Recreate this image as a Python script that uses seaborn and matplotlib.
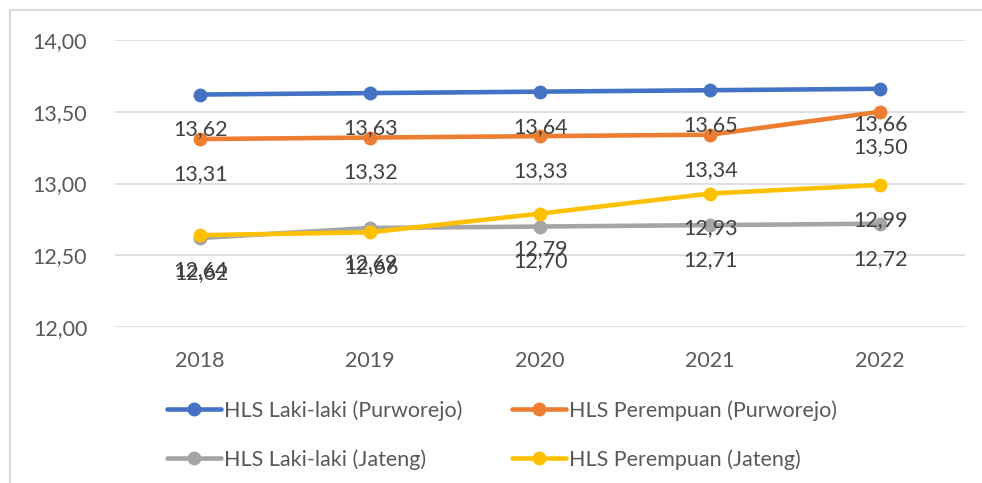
import matplotlib
matplotlib.use("Agg")
import matplotlib.pyplot as plt
import seaborn as sns
import pandas as pd
from matplotlib.patches import Rectangle
from matplotlib.lines import Line2D

years = [2018, 2019, 2020, 2021, 2022]
hls_laki_purworejo = [13.62, 13.63, 13.64, 13.65, 13.66]
hls_perempuan_purworejo = [13.31, 13.32, 13.33, 13.34, 13.50]
hls_laki_jateng = [12.62, 12.69, 12.70, 12.71, 12.72]
hls_perempuan_jateng = [12.64, 12.66, 12.79, 12.93, 12.99]
series_names = ["HLS Laki-laki (Purworejo)", "HLS Perempuan (Purworejo)",
                "HLS Laki-laki (Jateng)", "HLS Perempuan (Jateng)"]
y_ticks = [12.0, 12.5, 13.0, 13.5, 14.0]

colors = ["#4472C4", "#ED7D31", "#A5A5A5", "#FFC000"]
all_values = [hls_laki_purworejo, hls_perempuan_purworejo, hls_laki_jateng, hls_perempuan_jateng]

rows = []
for name, vals in zip(series_names, all_values):
    for yr, v in zip(years, vals):
        rows.append({"Tahun": yr, "HLS": v, "Seri": name})
df = pd.DataFrame(rows)

sns.set_style("white")
plt.rcParams["font.family"] = ["Lato", "DejaVu Sans"]

fig = plt.figure(figsize=(9.82, 4.83), dpi=100)
ax = fig.add_axes([115 / 982, 1 - 327 / 483, (965 - 115) / 982, (327 - 40) / 483])

for i, (name, col) in enumerate(zip(series_names, colors)):
    sub = df[df["Seri"] == name]
    sns.lineplot(data=sub, x="Tahun", y="HLS", ax=ax, color=col, linewidth=3.3,
                 marker="o", markersize=10, markeredgewidth=0, legend=False,
                 zorder=3 + i)

for name in series_names:
    sub = df[df["Seri"] == name]
    for yr, v in zip(sub["Tahun"], sub["HLS"]):
        ax.annotate(f"{v:.2f}".replace(".", ","), xy=(yr, v), xytext=(1, -35),
                    textcoords="offset pixels", ha="center", va="center",
                    fontsize=15.5, color="#404040", zorder=10)

ax.set_xlim(2017.5, 2022.5)
ax.set_ylim(12.0, 14.0)
ax.set_yticks(y_ticks)
ax.set_yticklabels([f"{t:.2f}".replace(".", ",") for t in y_ticks])
ax.set_xticks(years)
ax.set_xticklabels([str(y) for y in years])
ax.tick_params(axis="both", length=0, labelsize=15.5, labelcolor="#595959")
ax.tick_params(axis="y", pad=20)
ax.tick_params(axis="x", pad=17)
ax.grid(axis="y", color="#D9D9D9", linewidth=1.2)
ax.grid(axis="x", visible=False)
ax.set_xlabel("")
ax.set_ylabel("")
for s in ax.spines.values():
    s.set_visible(False)
ax.set_axisbelow(True)

fig.patches.append(Rectangle((10 / 982, -0.1), 1.2, 1 - 10 / 483 + 0.1,
                             transform=fig.transFigure, fill=False,
                             edgecolor="#D9D9D9", linewidth=1.5))

handles = [Line2D([0], [0], color=c, linewidth=3.3, marker="o", markersize=10,
                  markeredgewidth=0) for c in colors]
order = [0, 2, 1, 3]
fig.legend([handles[i] for i in order], [series_names[i] for i in order],
           ncol=2, loc="center",
           bbox_to_anchor=(502 / 982, 1 - 435 / 483), frameon=False,
           fontsize=15.5, labelcolor="#595959", handlelength=2.5,
           handletextpad=0.15, columnspacing=2.3, labelspacing=1.3)

fig.savefig("out.png", dpi=100)
